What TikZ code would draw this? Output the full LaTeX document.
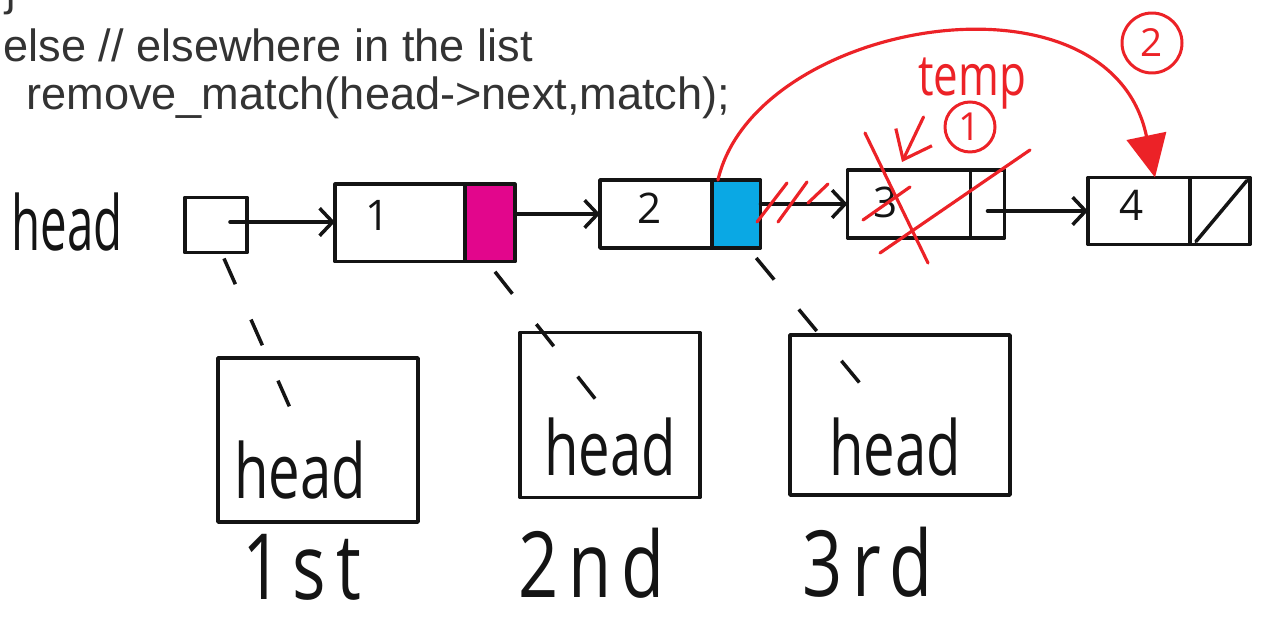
\documentclass[tikz,border=0pt]{standalone}
\usepackage{fontspec}
\setmainfont{Liberation Sans}
\newfontfamily\hand{Open Sans}
\usetikzlibrary{arrows.meta,calc}

\definecolor{ink}{HTML}{141414}
\definecolor{codegray}{HTML}{333333}
\definecolor{pen}{HTML}{EC2227}
\definecolor{ptrpink}{HTML}{E2068C}
\definecolor{ptrblue}{HTML}{0AA8E4}

% tall handwritten-looking lettering
\newcommand{\tallx}[2]{\scalebox{1}[#1]{#2}}

\begin{document}
\begin{tikzpicture}[x=0.02cm,y=-0.02cm,
  inkline/.style={line width=2pt, draw=ink, line join=round, line cap=round},
  cell/.style={inkline, rectangle, inner sep=0pt, outer sep=0pt},
  frame/.style={inkline, rectangle, inner sep=0pt, outer sep=0pt},
  num/.style={font=\hand\fontsize{24}{24}\selectfont, text=ink, inner sep=0pt},
  lbl/.style={font=\hand\fontsize{32}{32}\selectfont, text=ink, inner sep=0pt},
  ordinal/.style={font=\hand\fontsize{40}{40}\selectfont\addfontfeature{LetterSpace=14}, text=ink, inner sep=0pt},
  codeline/.style={anchor=base west, font=\fontsize{25.7}{30}\selectfont, text=codegray, inner sep=0pt},
  link/.style={inkline, -{Straight Barb[length=2.6mm,width=5.5mm,line width=2pt]}},
  callline/.style={inkline, line cap=butt, dash pattern=on 16pt off 22pt},
  redpen/.style={line width=1.8pt, draw=pen, line cap=round, line join=round},
  rednum/.style={circle, draw=pen, line width=1.7pt, text=pen, inner sep=0pt,
                 font=\hand\fontsize{22}{22}\selectfont},
]
\useasboundingbox (0,0) rectangle (1268,617);

% ---- source code fragment
\node[codeline] (brace) at (3,6) {\}};
\node[codeline] (code1) at (3,62) {else // elsewhere in the list};
\node[codeline] (code2) at (26,110) {remove\_match(head->next,match);};

% ---- the list
\node[lbl, font=\hand\fontsize{27}{27}\selectfont] (headlbl) at (67,222) {\tallx{1.6}{head}};
\node[cell, minimum width=1.25cm, minimum height=1.1cm] (hbox) at (216,225) {};
\coordinate (hptr) at (230,222);

\node[cell, minimum width=2.6cm, minimum height=1.55cm] (d1) at (400,223) {};
\node[cell, fill=ptrpink, minimum width=1cm, minimum height=1.55cm, anchor=west] (p1) at (d1.east) {};
\node[num] (v1) at (378,215) {1};

\node[cell, minimum width=2.24cm, minimum height=1.36cm] (d2) at (656,214) {};
\node[cell, fill=ptrblue, minimum width=0.97cm, minimum height=1.36cm, anchor=west] (p2) at (d2.east) {};
\node[num] (v2) at (650,208) {2};

\node[cell, minimum width=2.46cm, minimum height=1.36cm] (d3) at (909,204) {};
\node[cell, minimum width=0.68cm, minimum height=1.36cm, anchor=west] (p3) at (d3.east) {};
\node[num] (v3) at (886,202) {3};

\node[cell, minimum width=2.04cm, minimum height=1.34cm] (d4) at (1139,211) {};
\node[cell, minimum width=1.2cm, minimum height=1.34cm, anchor=west] (p4) at (d4.east) {};
\node[num] (v4) at (1132,205) {4};
\draw[inkline] ($(p4.south west)+(6,-3)$) -- ($(p4.north east)+(-3,3)$);

\draw[link] (hptr) -- (hptr -| d1.west);
\draw[link] (p1.east |- d2.west) -- (d2.west);
\draw[link] (p2.east |- d3.west) -- (d3.west);
\draw[link] (p3.center |- d4.west) -- (d4.west);

% ---- recursive call frames
\node[frame, minimum width=4cm, minimum height=3.28cm] (f1) at (318,440) {};
\node[lbl] (h1) at (300,470) {\tallx{1.35}{head}};
\node[frame, minimum width=3.6cm, minimum height=3.3cm] (f2) at (610,415) {};
\node[lbl] (h2) at (610,447) {\tallx{1.35}{head}};
\node[frame, minimum width=4.4cm, minimum height=3.2cm] (f3) at (900,415) {};
\node[lbl] (h3) at (895,447) {\tallx{1.35}{head}};

\node[ordinal] (o1) at (302,567) {\tallx{1.3}{1st}};
\node[ordinal] (o2) at (592,563) {\tallx{1.3}{2nd}};
\node[ordinal] (o3) at (868,562) {\tallx{1.3}{3rd}};

\draw[callline] ($(hbox.south)+(8,6)$) -- ($(h1.north)+(0,-10)$);
\draw[callline] ($(p1.south)+(5,10)$) -- ($(h2.north)+(-8,-10)$);
\draw[callline] ($(p2.south)+(20,10)$) -- ($(h3.north)+(-15,-10)$);

% ---- removal of node 3 (red pen)
\draw[redpen] (757,222) -- (787,183);
\draw[redpen] (778,222) -- (807,182);
\draw[redpen] (808,203) -- (828,184);

\draw[redpen] (865,133) -- (928,263);
\draw[redpen] (880,253) -- (1030,150);
\draw[redpen] (863,220) -- (910,187);

\node[text=pen, font=\hand\fontsize{25}{25}\selectfont, inner sep=0pt] (temp) at (972,84) {\tallx{1.3}{temp}};
\node[rednum, minimum size=1cm] (c1) at (970,127) {1};
\draw[redpen, -{Straight Barb[length=5mm,width=8mm,line width=1.8pt]}] ($(c1.west)+(-20,-10)$) -- ($(d3.north)+(-7,-8)$);

\node[rednum, minimum size=1.2cm] (c2) at (1152,43) {2};
\draw[redpen, -{Triangle[length=8.5mm,width=8mm]}] ($(p2.north west)+(6,0)$)
  .. controls (755,20) and (1110,-40) .. ($(d4.north)+(16,0)$);

\end{tikzpicture}
\end{document}
